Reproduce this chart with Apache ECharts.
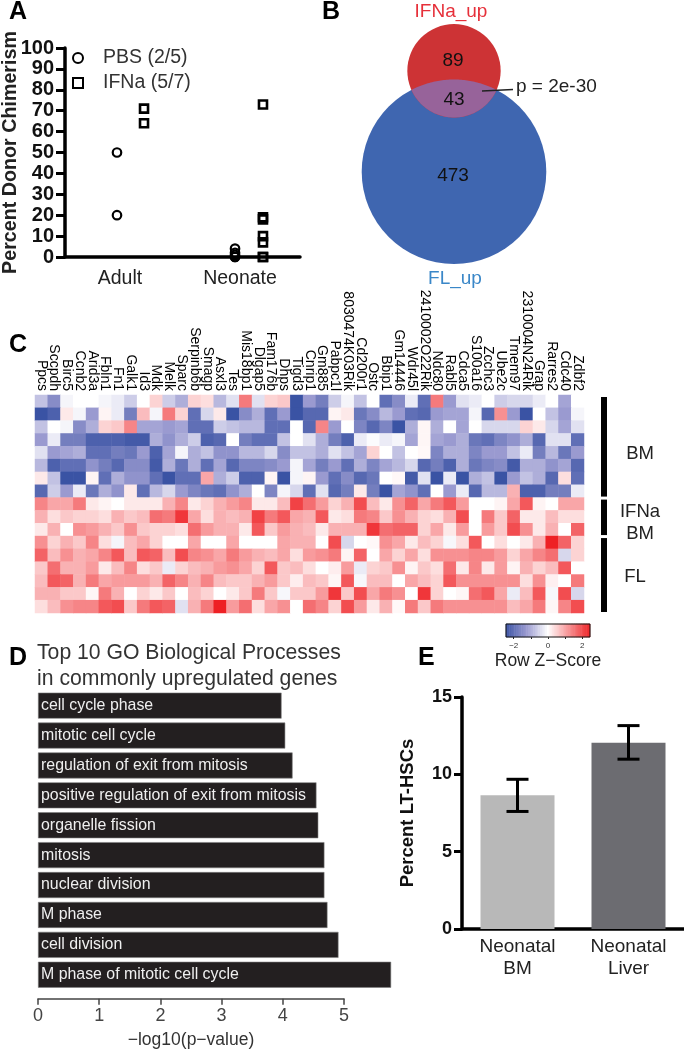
<!DOCTYPE html>
<html>
<head>
<meta charset="utf-8">
<style>html,body{margin:0;padding:0;background:#fff}#c{width:684px;height:1050px}</style>
<script src="https://cdn.jsdelivr.net/npm/echarts@6/dist/echarts.min.js"></script>
</head>
<body>
<div id="c"></div>
<script>
// Panel A
const groupNames = ['Adult', 'Neonate'];
const groupTicks = [0.936, 2.979];
const pbsPoints = [[0.885, 20], [0.885, 50], [2.894, 0], [2.894, 0], [2.894, 1], [2.894, 2], [2.894, 4]];
const ifnPoints = [[1.345, 64], [1.345, 71], [3.37, 0], [3.37, 0], [3.37, 7], [3.37, 10], [3.37, 18], [3.37, 19], [3.37, 73]];
// Panel B
const vennNames = ['IFNa_up', 'FL_up'];
const vennOnly = [89, 473];
const vennShared = 43;
const vennPValue = 'p = 2e-30';
// Panel C
const genes = ['Ppcs','Sccpdh','Birc5','Ccnb2','Arid3a','Fbln1','Fn1','Galk1','Id3','Mdk','Melk','Sparc','Serpinb6b','Smagp','Asxl3','Tes','Mis18bp1','Dlgap5','Fam176b','Dhps','Tigd3','Cnrip1','Gm885','Pabpc1l','8030474K03Rik','Cd200r1','Ostc','Bbip1','Gm14446','Wdr45l','2410002O22Rik','Ndc80','Rabl5','Cdca5','S100a16','Zcchc3','Ube2c','Tmem97','2310004N24Rik','Grap','Rarres2','Cdc40','Zdbf2'];
// values are z-scores in quarter units
const heatRows = [
[-3,-6,-.5,0,0, -.5,-1,-2.5,0,2, -2.5,-4,2,1.5,-3.5, -1.5,6,-1.5,2,2.5, -10,-5,-7,-2.5,-.5, -3,0,-8,-6,-1, -8,6,-5,-1.5,-1, 0,-2.5,-2,-2,-1, 0,-4.5,0],
[-10,-9,1,-.5,-5, .5,-1,-7,3,-.5, 6,2,-8,-2,1, -10,-6,-4,-8,-5, -10,-8.5,-8.5,.5,1, -7.5,-6,-3.5,-5,-8, -8.5,-5,-4.5,-4.5,-.5, -8.5,5,-5,-10,0, -3,-5,-.5],
[-3,0,-.5,-6,-4, 2,2.5,5.5,-4.5,-4.5, -5,-4.5,-8,-8,-2.5, -3,-3.5,-3.5,-8,-8, 0,-8.5,5.5,-5,0, -6.5,-8.5,-6.5,-10,-4, .4,-4,0,-4.5,0, -2,-2,-2,2,1, -2,-4.5,-1.5],
[-5,-1,-7,-7,-9, -9,-9,-9.5,-9.5,-4, -5.5,-4,-2.5,-9,-8.5, 0,-7,-8,-8,-3, 0,-1.5,-4,-7,-9, -1,-.2,-1,-.5,-4.5, .4,-4.5,-5,-4,-7.5, -8,-6.5,-5.5,-4,-8.5, -1.5,-1.5,-8],
[-1.5,-5,-4.5,-4,-8, -8,-7,-7.5,-5,-9, -4.5,-.5,-4,-3,-5.5, -5.5,-3.5,-3.5,-2,-6, -3,-3,-4,-1.5,-3, -4.5,2,0,-3,0, .3,-6.5,-4,-4,-6.5, -5,-5,-3,-1,-7, -3.5,-7.5,-5],
[-3.5,-9,-8,-8,-5.5, -7,-8.5,-6,-6,-9.5, -4,-7.5,-4,-8,-4.5, -8.5,-6.5,-6.5,-6,-5, -.5,-4.5,-7,-5,-8, -4,-6.5,-4.5,-3.5,-2, -8.5,-7,-9,-4,-7.5, -6.5,-6,-9.5,-4,-4, -5.5,-4.5,-8.5],
[1,-3,-10,-10,.5, -8,-4,-5.5,-5.5,-8, -10,-8,-8,4,-4, -2.5,-9,-9,.5,-10, -.5,.5,-5,-8,-6, -8.5,-7.5,0,.3,-9.5, -1.5,-10,-1,-10,-4, -3,-10,-5,-3,-4, -8.5,1.5,-8],
[-8.5,-2.5,-5,-1,-7.5, -4,-5.5,1,-8,-3.5, -2,-5,-6.5,-7.5,-8, -5.5,-4,0,-6.5,-.5, -2,-8,-1.5,-8.5,-7, 1,-7,-10,-4.5,-5.5, -8,0,-5,-1,-8.5, -3.5,-3.5,3.5,-9,-9, -7,-7,-1],
[5.5,4,4,6,1, .5,0,1,1,1, 3.5,5.5,1,2,3.5, 4.5,5.5,1,1,3, 8.5,6.5,4.5,2,3.5, 8,3,1,5,7, 4,6,7.5,4.5,0, 0,.5,4,7.5,.5, 0,4,4],
[3.5,1.5,2.5,2,2, 1.5,3.5,2.5,3,6.5, 6,9,4,1.5,3.5, 3,3.5,8.5,6,7.5, 4,3.5,7.5,1,1.5, 6,5.5,2.5,5,3.5, 2,1.5,3.5,8,0, 6,2.5,7,1,1, 3,1.5,1.5],
[1,3.5,0,5,4.5, 3.5,2.5,5,2.5,2, 2,1.5,6.5,4.5,3.5, 3.5,1,7.5,2.5,4.5, 3.5,3,1,3.5,3.5, 3.5,9,6.5,7,7, 2,4,1,4.5,0, 4.5,2.5,8,5,1, 3.5,0,7],
[5,2,3.5,2.5,5.5, 1.5,-.5,3,4,2, 0,0,4,0,0, 4,0,0,0,4, 3.5,3.5,0,8,-2, 0,.3,5,4,1, 3,2,-.4,1.5,7.5, 0,1.5,0,1,3.5, 10,7,2],
[7,3,5,3.5,4, 5.5,7.5,3,7.5,7, 3,8,5.5,5,4, 6,4.5,3.5,3,4, 1.5,4.5,5,6,.5, 7,0,4,2,4, 1.5,5,5,5,5.5, 5.5,4.5,2,4,5.5, 6.5,-2,2],
[2.5,6.5,3.5,3.5,4.5, 1,3,5.5,1.5,2.5, -1,2,3,3.5,4.5, 5,4,2,7.5,2.5, 3,1.5,0,.8,4.5, -1,2,2.5,5,.5, 2.5,1.5,6.5,1,5.5, 1,4.5,.5,3.5,2, 3,7.5,0],
[3,7.5,7,3.5,6, 4,4.5,4.5,4.5,3.5, 7,5.5,3.5,5.5,3, 2.5,2.5,3.5,4.5,2.5, .8,3,2.5,.4,7.5, -.4,3,3,0,4, 3,2,7.5,5,5, 5,5,5,1.5,5, .7,0,6],
[3.5,3.5,2.5,2.5,.4, 6,3.5,0,2,1, 2.5,0,3,2,0, 1,2.5,6,2.5,-.4, 2.5,2.5,4.5,9,2.5, 8,4,6,5,0, 9,2,0,.4,6.5, 7.5,4,-1,3,7.5, -.4,8,-2],
[1.5,3,5,5.5,5.5, 7.5,8,2.5,6,7.5, 7,-1.5,3.5,6,10, 4.5,6.5,1.5,4,5, 0,6.5,5.5,2,8, 4.5,1,3.5,.3,6, 2.5,6,5,5,5, 5,5,3,4,6, .4,5.5,8]
];
const rowGroups = [[0, 7, 'BM'], [8, 10, 'IFNa\nBM'], [11, 16, 'FL']];
const zKeyLevels = [-2.4,-2.3,-2.2,-2.1,-2,-1.9,-1.8,-1.7,-1.6,-1.5,-1.4,-1.3,-1.2,-1.1,-1,-.9,-.8,-.7,-.6,-.5,-.4,-.3,-.2,-.1,0,.1,.2,.3,.4,.5,.6,.7,.8,.9,1,1.1,1.2,1.3,1.4,1.5,1.6,1.7,1.8,1.9,2,2.1,2.2,2.3,2.4];
// Panel D
const goTerms = ['cell cycle phase','mitotic cell cycle','regulation of exit from mitosis','positive regulation of exit from mitosis','organelle fission','mitosis','nuclear division','M phase','cell division','M phase of mitotic cell cycle'];
const goValues = [3.98, 4.04, 4.16, 4.55, 4.58, 4.68, 4.68, 4.73, 4.91, 5.77];
// Panel E
const hscNames = ['Neonatal\nBM', 'Neonatal\nLiver'];
const hscValues = [8.65, 12.05];
const hscLow = [7.6, 10.98];
const hscHigh = [9.68, 13.15];
const hscColors = ['#b8b8b8', '#6c6c71'];

const FONT = '"Liberation Sans", Arial, sans-serif';
const chart = echarts.init(document.getElementById('c'), null, {renderer: 'canvas'});

function panelLetter(t, x, y) {
  return {type: 'text', left: x, top: y, z: 100, style: {text: t, font: 'bold 25px ' + FONT, fill: '#000'}, silent: true};
}
function plainText(t, x, y, size, fill, align) {
  return {type: 'text', x: x, y: y + 1.5, z: 100, style: {text: t, font: size + 'px ' + FONT, fill: fill || '#222', textAlign: align || 'center', textVerticalAlign: 'middle', lineHeight: size + 4}, silent: true};
}

const heatData = [];
heatRows.forEach((row, r) => row.forEach((v, c) => heatData.push([c, r, v / 4])));

const vennScale = 4.063;
const vennCircles = [
  {cx: 454, cy: 70.8, n: vennOnly[0] + vennShared, color: '#cd3335'},
  {cx: 454, cy: 171.8, n: vennOnly[1] + vennShared, color: '#3f66b0'}
];
function vennR(n) { return vennScale * Math.sqrt(n); }

const option = {
  animation: false,
  backgroundColor: '#fff',
  textStyle: {fontFamily: FONT},
  legend: {
    data: ['PBS (2/5)', 'IFNa (5/7)'], orient: 'vertical', left: 67, top: 43, itemWidth: 10, itemHeight: 10, itemGap: 5,
    textStyle: {fontSize: 19.5, color: '#333', fontFamily: FONT, padding: [0, 0, 0, 15]}, selectedMode: false
  },
  visualMap: {
    show: false, seriesIndex: [3, 4], dimension: 2, min: -2.5, max: 2.5,
    inRange: {color: ['#3a53a4', '#9a9ad0', '#ffffff', '#f79092', '#ee2024']}
  },
  grid: [
    {left: 65, top: 48, width: 235, height: 209, outerBoundsMode: 'none'},
    {left: 320, top: 0, width: 320, height: 300, outerBoundsMode: 'none'},
    {left: 35, top: 395, width: 549, height: 218, outerBoundsMode: 'none'},
    {left: 506, top: 624, width: 84, height: 13, outerBoundsMode: 'none'},
    {left: 38, top: 690.7, width: 306, height: 299, outerBoundsMode: 'none'},
    {left: 462, top: 697, width: 222, height: 232, outerBoundsMode: 'none'}
  ],
  xAxis: [
    {gridIndex: 0, type: 'value', min: 0, max: 4, splitLine: {show: false},
      axisLine: {show: true, onZero: false, lineStyle: {color: '#000', width: 3.5}}, axisTick: {show: false},
      axisLabel: {customValues: groupTicks, formatter: v => groupNames[groupTicks.indexOf(v)], fontSize: 19.5, color: '#222', margin: 12, fontFamily: FONT}},
    {gridIndex: 1, type: 'value', min: 320, max: 640, show: false},
    {gridIndex: 2, type: 'category', position: 'top', data: genes, axisLine: {show: false}, axisTick: {show: false}, splitLine: {show: false},
      axisLabel: {interval: 0, rotate: 90, fontSize: 14, color: '#000', margin: 4, fontFamily: FONT}},
    {gridIndex: 3, type: 'category', data: zKeyLevels, position: 'bottom', name: 'Row Z\u2212Score', nameLocation: 'middle', nameGap: 15,
      nameTextStyle: {fontSize: 17.5, color: '#222', fontFamily: FONT},
      axisLine: {show: false}, splitLine: {show: false},
      axisTick: {show: true, alignWithLabel: true, length: 2, lineStyle: {color: '#222'}, interval: i => Number.isInteger(zKeyLevels[i])},
      axisLabel: {fontSize: 8, color: '#333', margin: 5, fontFamily: FONT, interval: i => zKeyLevels[i] % 2 === 0, formatter: v => String(v).replace('-', '\u2212')}},
    {gridIndex: 4, type: 'value', min: 0, max: 5, interval: 1, offset: 9, position: 'bottom', name: '\u2212log10(p\u2212value)', nameLocation: 'middle', nameGap: 32,
      nameTextStyle: {fontSize: 17.5, color: '#333', fontFamily: FONT}, splitLine: {show: false},
      axisLine: {show: true, onZero: false, lineStyle: {color: '#444', width: 1.5}}, axisTick: {show: true, length: 6, lineStyle: {color: '#444', width: 1.5}},
      axisLabel: {fontSize: 18, color: '#444', margin: 8, fontFamily: FONT}},
    {gridIndex: 5, type: 'category', data: hscNames, splitLine: {show: false},
      axisLine: {lineStyle: {color: '#000', width: 3.5}}, axisTick: {show: false},
      axisLabel: {fontSize: 19, lineHeight: 22, color: '#222', margin: 7, interval: 0, fontFamily: FONT}}
  ],
  yAxis: [
    {gridIndex: 0, type: 'value', min: 0, max: 100, interval: 10, name: 'Percent Donor Chimerism', nameLocation: 'middle', nameGap: 44, nameMoveOverlap: false,
      nameTextStyle: {fontSize: 19.7, fontWeight: 'bold', color: '#222', fontFamily: FONT}, splitLine: {show: false},
      axisLine: {show: true, lineStyle: {color: '#000', width: 3.5}}, axisTick: {show: true, length: 9, lineStyle: {color: '#000', width: 3}},
      axisLabel: {fontSize: 20, fontWeight: 'bold', color: '#111', margin: 11, fontFamily: FONT}},
    {gridIndex: 1, type: 'value', min: 0, max: 300, inverse: true, show: false},
    {gridIndex: 2, type: 'category', inverse: true, data: heatRows.map((r, i) => i), show: false},
    {gridIndex: 3, type: 'category', data: ['z'], axisLine: {show: false}, axisTick: {show: false}, axisLabel: {show: false}, splitLine: {show: false}},
    {gridIndex: 4, type: 'category', inverse: true, data: goTerms, show: false},
    {gridIndex: 5, type: 'value', min: 0, max: 15, interval: 5, name: 'Percent LT-HSCs', nameLocation: 'middle', nameGap: 45, nameMoveOverlap: false,
      nameTextStyle: {fontSize: 18.5, fontWeight: 'bold', color: '#111', fontFamily: FONT}, splitLine: {show: false},
      axisLine: {show: true, lineStyle: {color: '#000', width: 3.5}}, axisTick: {show: true, length: 8, lineStyle: {color: '#000', width: 3}},
      axisLabel: {fontSize: 18, fontWeight: 'bold', color: '#111', margin: 10, fontFamily: FONT}}
  ],
  series: [
    {name: 'PBS (2/5)', type: 'scatter', xAxisIndex: 0, yAxisIndex: 0, data: pbsPoints, symbol: 'circle', symbolSize: 8.5, clip: false, z: 5,
      itemStyle: {color: 'rgba(255,255,255,0)', borderColor: '#000', borderWidth: 2.2, opacity: 1}},
    {name: 'IFNa (5/7)', type: 'scatter', xAxisIndex: 0, yAxisIndex: 0, data: ifnPoints, symbol: 'rect', symbolSize: 8, clip: false, z: 5,
      itemStyle: {color: 'rgba(255,255,255,0)', borderColor: '#000', borderWidth: 2.6, opacity: 1}},
    {type: 'custom', xAxisIndex: 1, yAxisIndex: 1, coordinateSystem: 'cartesian2d', silent: true, clip: false,
      data: [0, 1, 2].map(i => [i, i]), encode: {x: 0, y: 1},
      renderItem: function (params, api) {
        const i = params.dataIndex;
        if (i < 2) {
          const c = vennCircles[i === 0 ? 1 : 0];
          const p = api.coord([c.cx, c.cy]);
          return {type: 'circle', shape: {cx: p[0], cy: p[1], r: vennR(c.n)}, style: {fill: c.color}};
        }
        const a = vennCircles[0], b = vennCircles[1];
        const ra = vennR(a.n), rb = vennR(b.n), d = b.cy - a.cy;
        const y0 = (d * d + ra * ra - rb * rb) / (2 * d);
        const half = Math.sqrt(ra * ra - y0 * y0);
        const pts = [];
        const angA = Math.atan2(half, y0), angB = Math.atan2(half, d - y0);
        for (let k = 0; k <= 60; k++) {
          const t = -angA + 2 * angA * k / 60;
          pts.push(api.coord([a.cx + ra * Math.sin(t), a.cy + ra * Math.cos(t)]));
        }
        for (let k = 0; k <= 60; k++) {
          const t = angB - 2 * angB * k / 60;
          pts.push(api.coord([b.cx + rb * Math.sin(t), b.cy - rb * Math.cos(t)]));
        }
        return {type: 'polygon', shape: {points: pts}, style: {fill: '#97639a'}};
      }, z: 2},
    {type: 'heatmap', xAxisIndex: 2, yAxisIndex: 2, data: heatData, silent: true, progressive: 0},
    {type: 'heatmap', xAxisIndex: 3, yAxisIndex: 3, silent: true, progressive: 0,
      data: zKeyLevels.map((z, i) => [i, 0, z])},
    {type: 'custom', xAxisIndex: 2, yAxisIndex: 2, coordinateSystem: 'cartesian2d', silent: true, clip: false,
      data: rowGroups.map(g => [0, g[0], g[1]]), encode: {x: 0, y: [1, 2]},
      renderItem: function (params, api) {
        const half = api.size([0, 1])[1] / 2;
        const top = api.coord([0, api.value(1)])[1] - half + 2;
        const bot = api.coord([0, api.value(2)])[1] + half - 1;
        const right = params.coordSys.x + params.coordSys.width;
        return {type: 'rect', shape: {x: right + 17, y: top, width: 6, height: bot - top}, style: {fill: '#000'}};
      }},
    {type: 'bar', xAxisIndex: 4, yAxisIndex: 4, data: goValues, barWidth: 26, clip: false, silent: true,
      itemStyle: {color: '#231f20', borderColor: '#7f7f7f', borderWidth: 0.6},
      label: {show: true, position: 'insideLeft', distance: 3, color: '#efefef', fontSize: 15.9, fontFamily: FONT, formatter: p => goTerms[p.dataIndex]}},
    {type: 'bar', xAxisIndex: 5, yAxisIndex: 5, barWidth: 74, silent: true,
      data: hscValues.map((v, i) => ({value: v, itemStyle: {color: hscColors[i]}}))},
    {type: 'custom', xAxisIndex: 5, yAxisIndex: 5, coordinateSystem: 'cartesian2d', silent: true, z: 6,
      data: hscValues.map((v, i) => [i, hscLow[i], hscHigh[i]]), encode: {x: 0, y: [1, 2]},
      renderItem: function (params, api) {
        const lo = api.coord([api.value(0), api.value(1)]);
        const hi = api.coord([api.value(0), api.value(2)]);
        const w = 11;
        const st = {stroke: '#000', lineWidth: 3, fill: null};
        return {type: 'group', children: [
          {type: 'line', shape: {x1: lo[0], y1: lo[1], x2: hi[0], y2: hi[1]}, style: st},
          {type: 'line', shape: {x1: lo[0] - w, y1: lo[1], x2: lo[0] + w, y2: lo[1]}, style: st},
          {type: 'line', shape: {x1: hi[0] - w, y1: hi[1], x2: hi[0] + w, y2: hi[1]}, style: st}
        ]};
      }}
  ],
  graphic: {elements: [
    panelLetter('A', 9, 0), panelLetter('B', 322, 0), panelLetter('C', 9, 333), panelLetter('D', 9, 646), panelLetter('E', 418, 646),
    plainText(vennNames[0], 451, 10, 19, '#e6303a'),
    plainText(vennNames[1], 455, 277, 19, '#3a87c8'),
    plainText(String(vennOnly[0]), 453, 59, 19, '#111'),
    plainText(String(vennShared), 454, 98, 19, '#111'),
    plainText(String(vennOnly[1]), 453, 174, 19, '#111'),
    plainText(vennPValue, 516, 85, 19, '#222', 'left'),
    {type: 'line', z: 100, shape: {x1: 482, y1: 91, x2: 513, y2: 89.5}, style: {stroke: '#222', lineWidth: 1.5}, silent: true},
    {type: 'rect', z: 100, shape: {x: 506, y: 624, width: 84, height: 13}, style: {fill: null, stroke: '#111', lineWidth: 1}, silent: true},
    plainText('BM', 640, 452, 18.5),
    plainText('IFNa', 640, 510, 18.5),
    plainText('BM', 640, 532, 18.5),
    plainText('FL', 635, 575, 18.5),
    plainText('Top 10 GO Biological Processes', 37, 652, 21.2, '#333', 'left'),
    plainText('in commonly upregulated genes', 37, 678, 21.2, '#333', 'left')
  ]}
};
chart.setOption(option);
</script>
</body>
</html>
